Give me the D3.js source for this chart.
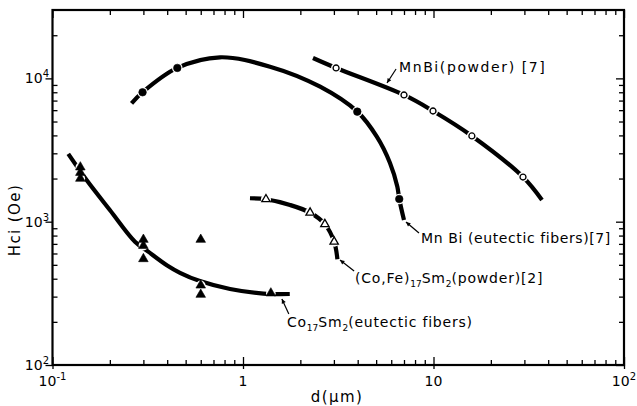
<!DOCTYPE html>
<html>
<head>
<meta charset="utf-8">
<script src="https://cdn.jsdelivr.net/npm/d3@7"></script>
<style>
  body { margin: 0; background: #fff; }
  svg { display: block; font-family: "DejaVu Sans", sans-serif; }
  .lbl { font-size: 14px; }
  .title { font-size: 15px; letter-spacing: 1.4px; }
  .tick-lbl { font-size: 14px; }
</style>
</head>
<body>
<svg width="637" height="406"></svg>
<script>
// MnBi (powder) [7] - open circles
const mnbiPowderCurveD = [2.33, 3.08, 7.0, 9.94, 15.9, 29.5, 37.1];
const mnbiPowderCurveH = [13870, 11820, 7660, 5920, 3965, 2050, 1417];
const mnbiPowderPtsD = [3.08, 7.0, 9.94, 15.9, 29.5];
const mnbiPowderPtsH = [11820, 7660, 5920, 3965, 2050];

// MnBi (eutectic fibers) [7] - filled circles
const mnbiFiberCurveD = [0.26, 0.297, 0.452, 0.757, 1.386, 2.54, 3.98, 5.04, 5.91, 6.46, 6.61, 7.0];
const mnbiFiberCurveH = [6700, 8000, 11830, 14030, 12070, 8750, 5860, 3920, 2570, 1755, 1440, 1027];
const mnbiFiberPtsD = [0.297, 0.452, 3.98, 6.61];
const mnbiFiberPtsH = [8000, 11830, 5860, 1440];

// (Co,Fe)17Sm2 (powder) [2] - open triangles
const cofeCurveD = [1.088, 1.32, 1.765, 2.25, 2.69, 3.01, 3.13];
const cofeCurveH = [1457, 1433, 1308, 1156, 960, 725, 547];
const cofePtsD = [1.32, 2.25, 2.69, 3.01];
const cofePtsH = [1433, 1156, 960, 725];

// Co17Sm2 (eutectic fibers) - filled triangles
const coSmCurveD = [0.121, 0.151, 0.2, 0.271, 0.318, 0.40, 0.467, 0.594, 0.855, 1.28, 1.76];
const coSmCurveH = [2970, 1954, 1207, 725, 618, 495, 440, 385, 339, 315, 313];
const coSmPtsD = [0.14, 0.14, 0.14, 0.3, 0.3, 0.3, 0.6, 0.6, 0.6, 1.4];
const coSmPtsH = [2400, 2200, 2000, 750, 680, 550, 750, 360, 310, 317];

// axes
const xMajor = [0.1, 1, 10, 100];
const xMajorLabels = [["10", "-1"], ["1", ""], ["10", ""], ["10", "2"]];
const yMajor = [100, 1000, 10000];
const yMajorLabels = [["10", "2"], ["10", "3"], ["10", "4"]];

const svg = d3.select("svg");
const x = d3.scaleLog().domain([0.1, 100]).range([52.5, 624]);
const y = d3.scaleLog().domain([100, 30000]).range([365, 10]);

function minorTicks(lo, hi) {
  const out = [];
  for (let e = Math.floor(Math.log10(lo)); e < Math.ceil(Math.log10(hi)); e++) {
    for (let k = 2; k <= 9; k++) {
      const v = k * Math.pow(10, e);
      if (v > lo && v < hi) out.push(v);
    }
  }
  return out;
}
const xMinor = minorTicks(0.1, 100);
const yMinor = minorTicks(100, 30000);

function tickAxis(axisFn, scale, values, inner, translate) {
  const g = svg.append("g")
    .attr("transform", translate)
    .call(axisFn(scale).tickValues(values).tickFormat("").tickSizeInner(inner).tickSizeOuter(0));
  g.select(".domain").remove();
  g.selectAll(".tick line").attr("stroke", "#000").attr("stroke-width", 1.3);
  return g;
}

// bottom: ticks up (inward)
tickAxis(d3.axisBottom, x, xMinor, -5, `translate(0,${y(100)})`);
tickAxis(d3.axisBottom, x, xMajor, -8, `translate(0,${y(100)})`);
tickAxis(d3.axisBottom, x, xMajor, 4, `translate(0,${y(100)})`);
// top: ticks down
tickAxis(d3.axisTop, x, xMinor, -5, `translate(0,${y(30000)})`);
tickAxis(d3.axisTop, x, xMajor, -8, `translate(0,${y(30000)})`);
// left: major out, minor in
tickAxis(d3.axisLeft, y, yMinor, -5, `translate(${x(0.1)},0)`);
tickAxis(d3.axisLeft, y, yMajor, 7, `translate(${x(0.1)},0)`);
// right: ticks in
tickAxis(d3.axisRight, y, yMinor, -5, `translate(${x(100)},0)`);
tickAxis(d3.axisRight, y, yMajor, -8, `translate(${x(100)},0)`);

// frame
svg.append("rect")
  .attr("x", x(0.1)).attr("y", y(30000))
  .attr("width", x(100) - x(0.1)).attr("height", y(100) - y(30000))
  .attr("fill", "none").attr("stroke", "#000").attr("stroke-width", 2.2);

// tick labels
xMajor.forEach((v, i) => {
  const [base, sup] = xMajorLabels[i];
  const t = svg.append("text").attr("class", "tick-lbl")
    .attr("x", i === 3 ? 636 : x(v)).attr("y", 386)
    .attr("text-anchor", i === 3 ? "end" : "middle");
  t.append("tspan").text(base);
  if (sup) t.append("tspan").attr("dy", -6).attr("font-size", 10).text(sup);
});
yMajor.forEach((v, i) => {
  const [base, sup] = yMajorLabels[i];
  const t = svg.append("text").attr("class", "tick-lbl")
    .attr("x", 49).attr("y", y(v) + 5).attr("text-anchor", "end");
  t.append("tspan").text(base);
  t.append("tspan").attr("dy", -6).attr("font-size", 10).text(sup);
});

// axis titles
svg.append("text").attr("class", "title")
  .attr("x", 337).attr("y", 402).attr("text-anchor", "middle")
  .text("d(\u03bcm)");
svg.append("text").attr("class", "title")
  .attr("transform", `translate(20,220) rotate(-90)`)
  .attr("text-anchor", "middle")
  .text("Hci (Oe)");

// curves
const line = d3.line()
  .x(d => x(d[0])).y(d => y(d[1]))
  .curve(d3.curveCatmullRom.alpha(0.5));

function drawCurve(ds, hs) {
  svg.append("path")
    .datum(d3.zip(ds, hs))
    .attr("d", line)
    .attr("fill", "none")
    .attr("stroke", "#000")
    .attr("stroke-width", 4.2)
    .attr("stroke-linecap", "butt");
}
drawCurve(mnbiPowderCurveD, mnbiPowderCurveH);
drawCurve(mnbiFiberCurveD, mnbiFiberCurveH);
drawCurve(cofeCurveD, cofeCurveH);
drawCurve(coSmCurveD, coSmCurveH);

// markers with white halos for the gaps
function drawMarkers(ds, hs, type, filled, size, halo) {
  const pts = d3.zip(ds, hs);
  svg.append("g").selectAll("circle")
    .data(pts).join("circle")
    .attr("cx", d => x(d[0])).attr("cy", d => y(d[1]))
    .attr("r", halo).attr("fill", "#fff");
  const sym = d3.symbol().type(type).size(size);
  svg.append("g").selectAll("path")
    .data(pts).join("path")
    .attr("transform", d => `translate(${x(d[0])},${y(d[1])})`)
    .attr("d", sym)
    .attr("fill", filled ? "#000" : "#fff")
    .attr("stroke", "#000")
    .attr("stroke-width", filled ? 0.6 : 1.3);
}
drawMarkers(mnbiPowderPtsD, mnbiPowderPtsH, d3.symbolCircle, false, 28, 5);
drawMarkers(mnbiFiberPtsD, mnbiFiberPtsH, d3.symbolCircle, true, 45, 5.3);
drawMarkers(cofePtsD, cofePtsH, d3.symbolTriangle, false, 30, 5);
drawMarkers(coSmPtsD, coSmPtsH, d3.symbolTriangle, true, 40, 4.8);

// annotations: leader lines and labels (data coordinates)
const leaders = [
  [[5.70, 9290], [6.36, 11630]],
  [[7.17, 995], [8.39, 834]],
  [[3.23, 541], [3.83, 453]],
  [[1.60, 289], [1.74, 227]]
];
leaders.forEach(l => {
  svg.append("line")
    .attr("x1", x(l[0][0])).attr("y1", y(l[0][1]))
    .attr("x2", x(l[1][0])).attr("y2", y(l[1][1]))
    .attr("stroke", "#000").attr("stroke-width", 1.2);
  const ang = Math.atan2(y(l[1][1]) - y(l[0][1]), x(l[1][0]) - x(l[0][0]));
  const px = x(l[0][0]), py = y(l[0][1]);
  const a = 5, w = 0.45;
  svg.append("path")
    .attr("d", `M${px},${py}L${px + a * Math.cos(ang - w)},${py + a * Math.sin(ang - w)}L${px + a * Math.cos(ang + w)},${py + a * Math.sin(ang + w)}Z`)
    .attr("fill", "#000");
});

function label(d, h, parts, spacing) {
  const t = svg.append("text").attr("class", "lbl")
    .attr("x", x(d)).attr("y", y(h))
    .style("letter-spacing", spacing + "px");
  let sub = false;
  parts.forEach(p => {
    if (p[1] === "sub") {
      t.append("tspan").attr("dy", 4).attr("font-size", 9).style("letter-spacing", "0px").text(p[0]);
      sub = true;
    } else {
      t.append("tspan").attr("dy", sub ? -4 : 0).text(p[0]);
      sub = false;
    }
  });
}
label(6.59, 11100, [["MnBi(powder) [7]"]], 1.6);
label(8.60, 710, [["Mn Bi (eutectic fibers)[7]"]], 0.6);
label(3.87, 373, [["(Co,Fe)"], ["17", "sub"], ["Sm"], ["2", "sub"], ["(powder)[2]"]], 0.8);
label(1.70, 184, [["Co"], ["17", "sub"], ["Sm"], ["2", "sub"], ["(eutectic fibers)"]], 0.8);
</script>
</body>
</html>
